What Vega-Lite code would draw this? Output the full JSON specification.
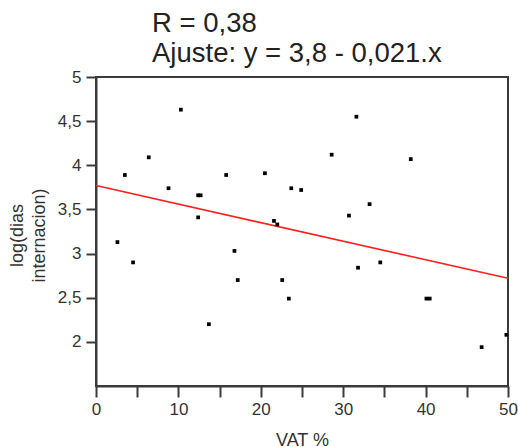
{
  "$schema": "https://vega.github.io/schema/vega-lite/v6.json",
  "autosize": "none",
  "width": 412,
  "height": 309,
  "padding": {"left": 96, "top": 77, "right": 10, "bottom": 61},
  "background": "white",
  "config": {
    "font": "Liberation Sans",
    "view": {"stroke": "#3a3a3a", "strokeWidth": 2},
    "axis": {"grid": false, "domainColor": "#3a3a3a", "domainWidth": 2, "tickColor": "#3a3a3a", "tickWidth": 2, "labelColor": "#333333", "labelFont": "Liberation Sans", "titleFont": "Liberation Sans", "titleFontWeight": "normal", "titleColor": "#333333"}
  },
  "title": {
    "text": ["R = 0,38", "Ajuste: y = 3,8 - 0,021.x"],
    "anchor": "start",
    "frame": "group",
    "dx": 56,
    "dy": 35,
    "fontSize": 27.5,
    "lineHeight": 30,
    "font": "Liberation Sans",
    "fontWeight": "normal",
    "color": "#222222",
    "baseline": "bottom",
    "offset": 8
  },
  "datasets": {
    "pts": [
      {"vat": 10.3, "logdias": 4.63}, {"vat": 6.4, "logdias": 4.09}, {"vat": 3.5, "logdias": 3.89},
      {"vat": 8.8, "logdias": 3.74}, {"vat": 12.4, "logdias": 3.66}, {"vat": 12.7, "logdias": 3.66},
      {"vat": 15.8, "logdias": 3.89}, {"vat": 20.5, "logdias": 3.91}, {"vat": 23.7, "logdias": 3.74},
      {"vat": 24.9, "logdias": 3.72}, {"vat": 12.4, "logdias": 3.41}, {"vat": 21.6, "logdias": 3.37},
      {"vat": 22.0, "logdias": 3.33}, {"vat": 31.6, "logdias": 4.55}, {"vat": 28.6, "logdias": 4.12},
      {"vat": 38.2, "logdias": 4.07}, {"vat": 33.2, "logdias": 3.56}, {"vat": 30.7, "logdias": 3.43},
      {"vat": 2.6, "logdias": 3.13}, {"vat": 4.5, "logdias": 2.90}, {"vat": 16.8, "logdias": 3.03},
      {"vat": 17.2, "logdias": 2.70}, {"vat": 22.6, "logdias": 2.70}, {"vat": 23.4, "logdias": 2.49},
      {"vat": 13.7, "logdias": 2.20}, {"vat": 31.8, "logdias": 2.84}, {"vat": 34.5, "logdias": 2.90},
      {"vat": 40.1, "logdias": 2.49}, {"vat": 40.5, "logdias": 2.49}, {"vat": 46.8, "logdias": 1.94},
      {"vat": 49.8, "logdias": 2.08}
    ],
    "fit": [
      {"vat": 0, "logdias": 3.77},
      {"vat": 50, "logdias": 2.72}
    ]
  },
  "layer": [
    {
      "data": {"name": "fit"},
      "mark": {"type": "line", "color": "#ff2020", "strokeWidth": 1.6},
      "encoding": {
        "x": {"field": "vat", "type": "quantitative"},
        "y": {"field": "logdias", "type": "quantitative"}
      }
    },
    {
      "data": {"name": "pts"},
      "mark": {"type": "point", "shape": "square", "filled": true, "color": "#000000", "size": 14, "opacity": 1},
      "encoding": {
        "x": {
          "field": "vat", "type": "quantitative",
          "scale": {"domain": [0, 50], "nice": false, "zero": false},
          "axis": {
            "title": "VAT %",
            "titleFontSize": 18,
            "titlePadding": 14,
            "values": [0, 5, 10, 15, 20, 25, 30, 35, 40, 45, 50],
            "labelExpr": "datum.value % 10 === 0 ? datum.label : ''",
            "labelFontSize": 17,
            "labelPadding": 4,
            "tickSize": 11,
            "labelFlush": false,
            "labelOverlap": false,
            "encode": {"ticks": {"update": {"y2": {"signal": "datum.value % 10 === 0 ? 11 : 6"}}}}
          }
        },
        "y": {
          "field": "logdias", "type": "quantitative",
          "scale": {"domain": [1.5, 5], "nice": false, "zero": false},
          "axis": {
            "title": ["log(dias", "internacion)"],
            "titleFontSize": 18,
            "titleLineHeight": 22,
            "titleAngle": -90,
            "titleAlign": "center",
            "titleBaseline": "top",
            "titleX": -88,
            "titleY": 158,
            "values": [2, 2.5, 3, 3.5, 4, 4.5, 5],
            "labelExpr": "replace(toString(datum.value), '.', ',')",
            "labelFontSize": 17,
            "labelPadding": 5,
            "tickSize": 10,
            "labelFlush": false,
            "labelOverlap": false
          }
        }
      }
    }
  ]
}
